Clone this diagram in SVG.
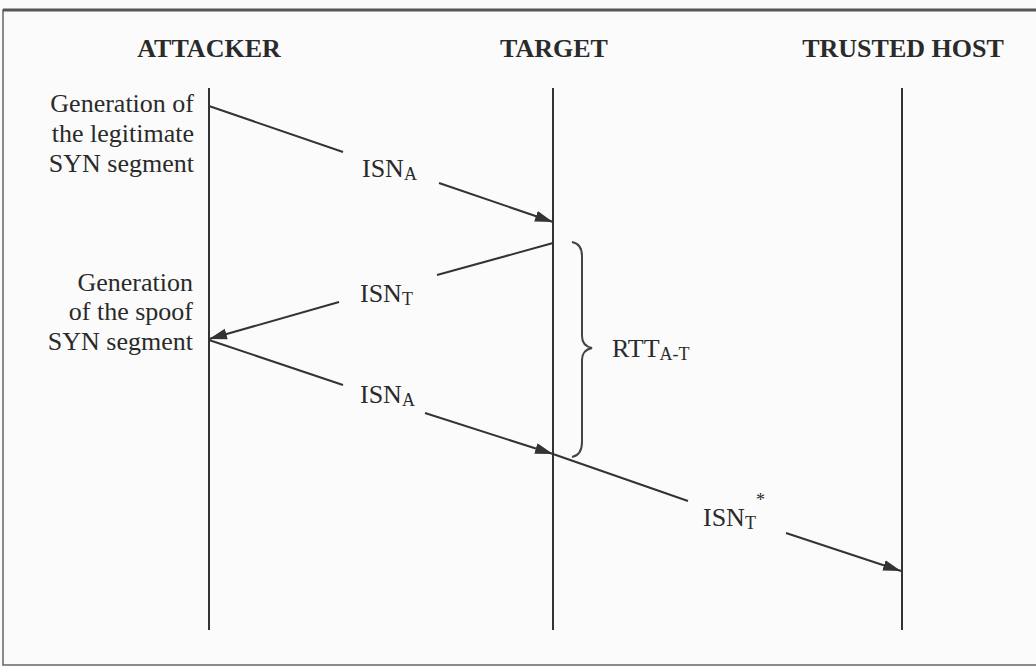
<svg xmlns="http://www.w3.org/2000/svg" width="1036" height="666" viewBox="0 0 1036 666">
  <defs>
    <style>
      .hdr { font-family: "Liberation Serif", "Times New Roman", serif; font-weight: bold; font-size: 26px; fill: #2a2a2a; text-anchor: middle; }
      .lbl { font-family: "Liberation Serif", "Times New Roman", serif; font-size: 26px; fill: #2a2a2a; }
      .side { text-anchor: end; }
      .sub { font-size: 18px; }
      .life { stroke: #333; stroke-width: 2; fill: none; }
      .msg { stroke: #333; stroke-width: 2; fill: none; }
      .brace { stroke: #444; stroke-width: 2; fill: none; }
    </style>
    <marker id="arr" markerUnits="userSpaceOnUse" markerWidth="20" markerHeight="12" refX="18" refY="5.5" orient="auto">
      <path d="M0,0 L18,5.5 L0,11 z" fill="#333"/>
    </marker>
  </defs>
  <rect x="0" y="0" width="1036" height="666" fill="#fbfbfb"/>
  <rect x="3" y="10" width="1040" height="655" fill="none" stroke="#666" stroke-width="1.5"/>
  <line x1="3" y1="10" x2="1036" y2="10" stroke="#555" stroke-width="3"/>

  <g id="attacker">
    <text class="hdr" x="209" y="57">ATTACKER</text>
    <line class="life" x1="209" y1="88" x2="209" y2="630"/>
  </g>
  <g id="target">
    <text class="hdr" x="554" y="57">TARGET</text>
    <line class="life" x1="553" y1="88" x2="553" y2="630"/>
  </g>
  <g id="trusted-host">
    <text class="hdr" x="903" y="57">TRUSTED HOST</text>
    <line class="life" x1="902" y1="88" x2="902" y2="630"/>
  </g>

  <g id="note-legit" font-family="Liberation Serif, Times New Roman, serif">
    <text class="lbl side" x="194" y="112">Generation of</text>
    <text class="lbl side" x="194" y="142">the legitimate</text>
    <text class="lbl side" x="194" y="172">SYN segment</text>
  </g>
  <g id="note-spoof" font-family="Liberation Serif, Times New Roman, serif">
    <text class="lbl side" x="193" y="291">Generation</text>
    <text class="lbl side" x="193" y="320">of the spoof</text>
    <text class="lbl side" x="193" y="350">SYN segment</text>
  </g>

  <g id="connectors">
    <line class="msg" x1="209" y1="106" x2="343" y2="152"/>
    <line class="msg" x1="439" y1="183" x2="553" y2="222" marker-end="url(#arr)"/>
    <line class="msg" x1="553" y1="243" x2="437" y2="275"/>
    <line class="msg" x1="339" y1="302" x2="209" y2="339" marker-end="url(#arr)"/>
    <line class="msg" x1="209" y1="340" x2="343" y2="385"/>
    <line class="msg" x1="425" y1="413" x2="553" y2="454" marker-end="url(#arr)"/>
    <line class="msg" x1="553" y1="454" x2="688" y2="501"/>
    <line class="msg" x1="786" y1="533" x2="901" y2="571" marker-end="url(#arr)"/>
  </g>

  <g id="label-isn-a1">
    <text class="lbl" x="362" y="177">ISN<tspan class="sub" dy="3">A</tspan></text>
  </g>
  <g id="label-isn-t">
    <text class="lbl" x="360" y="302">ISN<tspan class="sub" dy="3">T</tspan></text>
  </g>
  <g id="label-isn-a2">
    <text class="lbl" x="360" y="403">ISN<tspan class="sub" dy="3">A</tspan></text>
  </g>
  <g id="label-isn-t-star">
    <text class="lbl" x="703" y="526">ISN<tspan class="sub" dy="3">T</tspan><tspan class="sub" dy="-23">*</tspan></text>
  </g>

  <g id="rtt">
    <path class="brace" d="M572,242 Q582,244 582,256 L582,336 Q582,346 592,348 Q582,350 582,360 L582,442 Q582,455 572,457"/>
    <text class="lbl" x="612" y="357">RTT<tspan class="sub" dy="3" font-size="17">A-T</tspan></text>
  </g>
</svg>
